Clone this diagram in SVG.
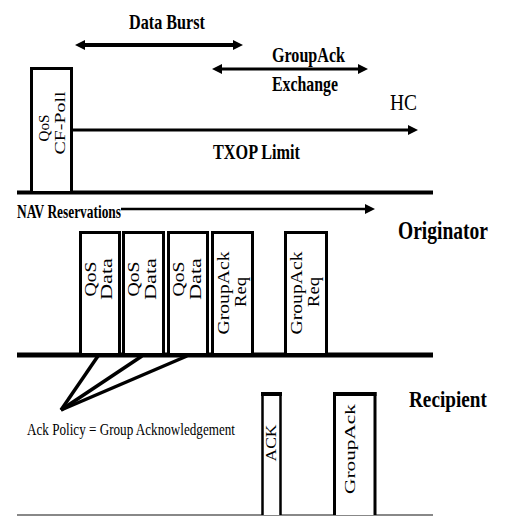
<svg xmlns="http://www.w3.org/2000/svg" width="506" height="516" viewBox="0 0 506 516">
<style>
.b{font-family:"Liberation Serif","Times New Roman",serif;font-weight:bold;fill:#000}
.r{font-family:"Liberation Serif","Times New Roman",serif;font-weight:normal;fill:#000}
.frame{fill:#fff;stroke:#000;stroke-width:3}
.axis{stroke:#000;fill:none}
.conn{stroke:#000;fill:none}
</style>
<defs>
<marker id="ah" viewBox="0 0 10 10" refX="4" refY="5" markerWidth="10" markerHeight="10" markerUnits="userSpaceOnUse" orient="auto-start-reverse">
<path d="M0,0 L10,5 L0,10 z" fill="#000"/>
</marker>
</defs>
<rect width="506" height="516" fill="#fff"/>

<g id="timelines">
<line class="axis" x1="17" y1="192.5" x2="433" y2="192.5" stroke-width="4"/>
<line class="axis" x1="17" y1="355" x2="433" y2="355" stroke-width="5"/>
<line x1="17" y1="515" x2="433" y2="515" stroke="#888" stroke-width="2"/>
</g>

<g id="hc-frame">
<rect class="frame" x="31.5" y="68.5" width="40" height="124"/>
<text class="r" font-size="15" text-anchor="middle" textLength="27" lengthAdjust="spacingAndGlyphs" transform="translate(49,128) rotate(-90)">QoS</text>
<text class="r" font-size="15" text-anchor="middle" textLength="63" lengthAdjust="spacingAndGlyphs" transform="translate(65,123) rotate(-90)">CF-Poll</text>
</g>

<g id="data1">
<rect class="frame" x="80.5" y="232.5" width="39" height="122"/>
<text class="r" font-size="17" text-anchor="middle" textLength="35" lengthAdjust="spacingAndGlyphs" transform="translate(96,279) rotate(-90)">QoS</text>
<text class="r" font-size="17" text-anchor="middle" textLength="42" lengthAdjust="spacingAndGlyphs" transform="translate(112,279) rotate(-90)">Data</text>
</g>
<g id="data2">
<rect class="frame" x="123.5" y="232.5" width="40" height="122"/>
<text class="r" font-size="17" text-anchor="middle" textLength="35" lengthAdjust="spacingAndGlyphs" transform="translate(139,279) rotate(-90)">QoS</text>
<text class="r" font-size="17" text-anchor="middle" textLength="42" lengthAdjust="spacingAndGlyphs" transform="translate(156,279) rotate(-90)">Data</text>
</g>
<g id="data3">
<rect class="frame" x="168.5" y="232.5" width="39" height="122"/>
<text class="r" font-size="17" text-anchor="middle" textLength="35" lengthAdjust="spacingAndGlyphs" transform="translate(184,279) rotate(-90)">QoS</text>
<text class="r" font-size="17" text-anchor="middle" textLength="42" lengthAdjust="spacingAndGlyphs" transform="translate(201,279) rotate(-90)">Data</text>
</g>
<g id="gareq1">
<rect class="frame" x="212.5" y="232.5" width="40" height="122"/>
<text class="r" font-size="17" text-anchor="middle" textLength="83" lengthAdjust="spacingAndGlyphs" transform="translate(229,293) rotate(-90)">GroupAck</text>
<text class="r" font-size="17" text-anchor="middle" textLength="30" lengthAdjust="spacingAndGlyphs" transform="translate(246,292) rotate(-90)">Req</text>
</g>
<g id="gareq2">
<rect class="frame" x="285.5" y="232.5" width="41" height="122"/>
<text class="r" font-size="17" text-anchor="middle" textLength="83" lengthAdjust="spacingAndGlyphs" transform="translate(302,293) rotate(-90)">GroupAck</text>
<text class="r" font-size="17" text-anchor="middle" textLength="30" lengthAdjust="spacingAndGlyphs" transform="translate(319,292) rotate(-90)">Req</text>
</g>

<g id="ack">
<path d="M262.5,515 V393.5 H280.5 V515" fill="#fff" stroke="#000" stroke-width="2.5"/>
<line x1="261" y1="394" x2="282" y2="394" stroke="#000" stroke-width="4"/>
<text class="r" font-size="14" text-anchor="middle" textLength="37" lengthAdjust="spacingAndGlyphs" transform="translate(276,443) rotate(-90)">ACK</text>
</g>
<g id="groupack">
<path d="M334.5,515 V393.5 H375 V515" fill="#fff" stroke="#000" stroke-width="3"/>
<line x1="333" y1="394" x2="376.5" y2="394" stroke="#000" stroke-width="4"/>
<text class="r" font-size="15" text-anchor="middle" textLength="90" lengthAdjust="spacingAndGlyphs" transform="translate(355,449) rotate(-90)">GroupAck</text>
</g>

<g id="connectors">
<line class="conn" x1="81" y1="45" x2="237" y2="45" stroke-width="4" marker-start="url(#ah)" marker-end="url(#ah)"/>
<line class="conn" x1="218" y1="69" x2="362" y2="69" stroke-width="3" marker-start="url(#ah)" marker-end="url(#ah)"/>
<line class="conn" x1="72" y1="130" x2="412" y2="130" stroke-width="3" marker-end="url(#ah)"/>
<line class="conn" x1="121" y1="209" x2="369" y2="209" stroke-width="2.5" marker-end="url(#ah)"/>
<line class="conn" x1="61" y1="410" x2="98" y2="356" stroke-width="3.5"/>
<line class="conn" x1="61" y1="410" x2="142" y2="356" stroke-width="3.5"/>
<line class="conn" x1="61" y1="410" x2="187" y2="356" stroke-width="3.5"/>
</g>

<g id="labels">
<text class="b" x="129" y="29" font-size="21" textLength="76" lengthAdjust="spacingAndGlyphs">Data Burst</text>
<text class="b" x="272" y="62" font-size="21" textLength="73" lengthAdjust="spacingAndGlyphs">GroupAck</text>
<text class="b" x="272" y="91" font-size="21" textLength="66" lengthAdjust="spacingAndGlyphs">Exchange</text>
<text class="r" x="390" y="110" font-size="24" textLength="27" lengthAdjust="spacingAndGlyphs">HC</text>
<text class="b" x="213" y="159" font-size="22" textLength="87" lengthAdjust="spacingAndGlyphs">TXOP Limit</text>
<text class="b" x="17" y="218" font-size="18" textLength="104" lengthAdjust="spacingAndGlyphs">NAV Reservations</text>
<text class="b" font-size="26" transform="translate(398,239) scale(0.75,1)">Originator</text>
<text class="b" font-size="23" transform="translate(409,407) scale(0.835,1)">Recipient</text>
<text class="r" x="27" y="435" font-size="17" textLength="208" lengthAdjust="spacingAndGlyphs">Ack Policy = Group Acknowledgement</text>
</g>
</svg>
